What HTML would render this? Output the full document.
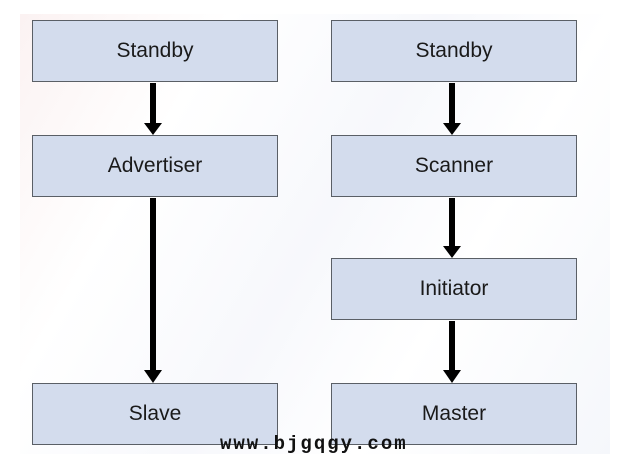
<!DOCTYPE html>
<html><head><style>
body{margin:0;width:633px;height:465px;background:#fff;position:relative;overflow:hidden;font-family:"Liberation Sans",sans-serif}
.b{position:absolute;width:244px;height:60px;background:#d3dced;border:1px solid #5a5f66;box-sizing:content-box;display:flex;align-items:center;justify-content:center;font-size:21px;color:#1a1a1a}
.bg{position:absolute;left:20px;top:14px;width:590px;height:440px;background:linear-gradient(120deg,#fbf2f2 0%,#fff 25%,#f7f8fc 50%,#fff 70%,#f5f7fb 100%)}
.wm{position:absolute;left:220px;top:433px;font-family:"Liberation Mono",monospace;font-weight:bold;font-size:19px;color:#111;letter-spacing:2px}
</style></head><body>
<div class="bg"></div>
<div class="b" style="left:32px;top:20px">Standby</div>
<div class="b" style="left:32px;top:135px">Advertiser</div>
<div class="b" style="left:32px;top:383px">Slave</div>
<div class="b" style="left:331px;top:20px">Standby</div>
<div class="b" style="left:331px;top:135px">Scanner</div>
<div class="b" style="left:331px;top:258px">Initiator</div>
<div class="b" style="left:331px;top:383px">Master</div>
<svg width="633" height="465" style="position:absolute;left:0;top:0">
<g fill="#000">
<rect x="150" y="83" width="6" height="42"/><polygon points="144,123 162,123 153,135"/>
<rect x="150" y="198" width="6" height="173"/><polygon points="144,370 162,370 153,383"/>
<rect x="449" y="83" width="6" height="42"/><polygon points="443,123 461,123 452,135"/>
<rect x="449" y="198" width="6" height="48"/><polygon points="443,246 461,246 452,258"/>
<rect x="449" y="321" width="6" height="50"/><polygon points="443,370 461,370 452,383"/>
</g></svg>
<div class="wm">www.bjgqgy.com</div>
</body></html>
